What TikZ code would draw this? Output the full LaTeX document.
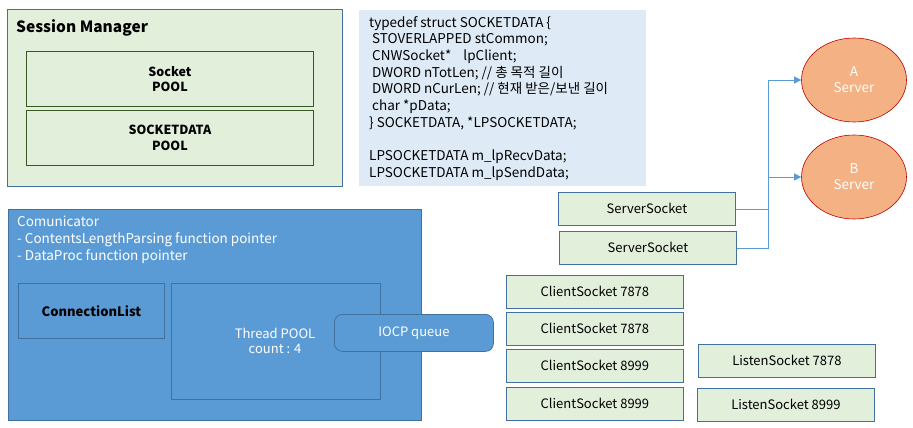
\documentclass[tikz,border=0pt]{standalone}
\usepackage{fontspec}
\setmainfont{Noto Sans CJK KR}
\usetikzlibrary{shapes.geometric,arrows.meta}
\definecolor{lgreen}{HTML}{E2EFDA}
\definecolor{dgreen}{HTML}{385723}
\definecolor{bord}{HTML}{41719C}
\definecolor{lblue}{HTML}{DEEBF7}
\definecolor{mblue}{HTML}{5B9BD5}
\definecolor{salmon}{HTML}{F4B183}
\definecolor{dred}{HTML}{C00000}
\begin{document}
\begin{tikzpicture}[x=1pt,y=-1pt,
  txt/.style={font=\fontsize{13}{15}\selectfont},
  gbox/.style={draw=bord,line width=0.8pt,fill=lgreen,txt,text=black,minimum width=177pt,minimum height=33pt,anchor=north west,inner sep=0pt},
  poolbox/.style={draw=dgreen,line width=0.8pt,font=\fontsize{12.5}{15.5}\selectfont\bfseries,align=center,minimum width=287pt,minimum height=55pt,anchor=north west,inner sep=0pt},
  inbox/.style={draw=bord,line width=0.8pt,txt},
  srv/.style={ellipse,draw=dred,line width=0.6pt,fill=salmon,text=white,font=\fontsize{13.5}{16}\selectfont,align=center,minimum width=105pt,minimum height=84pt,inner sep=0pt},
  conn/.style={draw=mblue,line width=0.8pt},
  arr/.style={conn,-{Triangle[length=7pt,width=7pt]}}]
\useasboundingbox (0,0) rectangle (913,428);
% Session manager
\node[draw=bord,line width=0.8pt,fill=lgreen,minimum width=335pt,minimum height=177pt,anchor=north west,inner sep=0pt] (sm) at (7,9) {};
\node[anchor=west,font=\fontsize{15.5}{17}\selectfont\bfseries,inner sep=0pt] (smt) at (16,28) {Session Manager};
\node[poolbox] (sp) at (26,51) {Socket\\POOL};
\node[poolbox] (sdp) at (26,110) {SOCKETDATA\\POOL};
% code box
\node[fill=lblue,minimum width=287pt,minimum height=176pt,anchor=north west,inner sep=0pt] (code) at (359,10) {};
\node[anchor=north west,align=left,font=\fontsize{13.5}{16.7}\selectfont,inner sep=0pt] (codet) at (369,16) {typedef struct SOCKETDATA \{\\
\ STOVERLAPPED stCommon;\\
\ CNWSocket*\ \ \ \ lpClient;\\
\ DWORD nTotLen; // 총 목적 길이\\
\ DWORD nCurLen; // 현재 받은/보낸 길이\\
\ char *pData;\\
\} SOCKETDATA, *LPSOCKETDATA;\\[16.7pt]
LPSOCKETDATA m\_lpRecvData;\\
LPSOCKETDATA m\_lpSendData;};
% Comunicator
\node[draw=bord,line width=0.8pt,fill=mblue,minimum width=413pt,minimum height=211pt,anchor=north west,inner sep=0pt] (com) at (8,209) {};
\node[anchor=north west,align=left,text=white,font=\fontsize{13.5}{17}\selectfont,inner sep=0pt] (comt) at (17,216) {Comunicator\\- ContentsLengthParsing function pointer\\- DataProc function pointer};
\node[inbox,minimum width=146pt,minimum height=55pt,anchor=north west,inner sep=0pt,font=\fontsize{13}{15}\selectfont\bfseries] (cl) at (18,283) {ConnectionList};
\node[inbox,minimum width=209pt,minimum height=116pt,anchor=north west,inner sep=0pt] (tp) at (171,283) {};
\node[text=white,txt,align=center,inner sep=0pt] (tpt) at (275,341) {Thread POOL\\count : 4};
\node[draw=bord,line width=0.8pt,fill=mblue,rounded corners=8pt,minimum width=159pt,minimum height=37pt,anchor=north west,inner sep=0pt,text=white,txt] (iocp) at (334,314) {IOCP queue};
% servers
\node[srv] (A) at (854,80) {A\\Server};
\node[srv] (B) at (854,177) {B\\Server};
% sockets
\node[gbox] (ss1) at (558,192) {ServerSocket};
\node[gbox] (ss2) at (559,231) {ServerSocket};
\node[gbox] (cs1) at (506,275) {ClientSocket 7878};
\node[gbox] (cs2) at (506,312) {ClientSocket 7878};
\node[gbox] (cs3) at (506,349) {ClientSocket 8999};
\node[gbox] (cs4) at (506,387) {ClientSocket 8999};
\node[gbox] (ls1) at (698,344) {ListenSocket 7878};
\node[gbox] (ls2) at (697,388) {ListenSocket 8999};
% connectors
\coordinate (j) at (768,80);
\draw[conn] (ss1.east) -- (ss1.east -| j);
\draw[conn] (ss2.east) -- (ss2.east -| j) -- (j);
\draw[arr] (j) -- (A.west);
\draw[arr] (B.west -| j) -- (B.west);
\end{tikzpicture}
\end{document}
